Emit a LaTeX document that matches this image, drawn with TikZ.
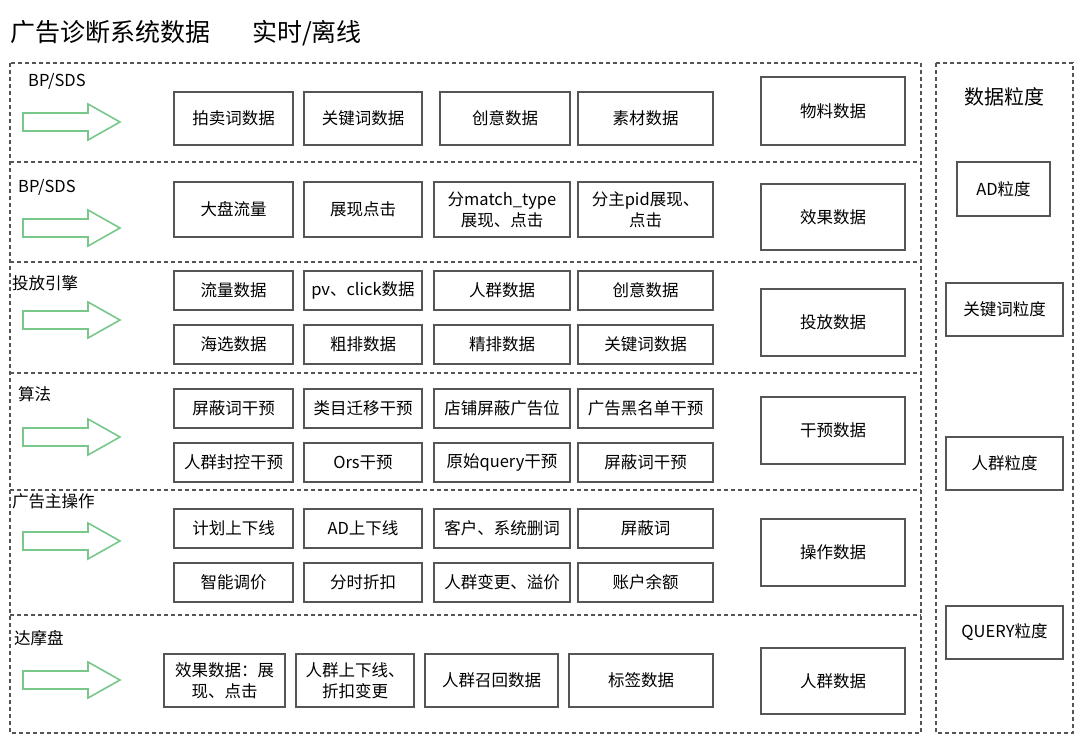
\documentclass[tikz,border=0pt]{standalone}
\usepackage{fontspec}
\setmainfont{Noto Sans CJK SC}
\definecolor{boxline}{RGB}{85,85,85}
\definecolor{arrowgreen}{RGB}{120,200,140}
\tikzset{
  cell/.style={draw=boxline, line width=1.6pt, fill=white, inner sep=1pt, align=center,
    font=\fontsize{16.5}{21}\selectfont},
  sectionlabel/.style={anchor=north west, inner sep=0pt, font=\fontsize{16.5}{20}\selectfont},
  frame/.style={draw=boxline, line width=1.3pt, dashed, dash pattern=on 4pt off 3pt},
}
\newcommand\cellbox[6]{\node[cell, minimum width={#4-#2}, minimum height={#5-#3}] (#1) at ({(#2+#4)/2},{(#3+#5)/2}) {#6};}
\newcommand\greenarrow[1]{\draw[arrowgreen, line width=1.6pt, fill=white]
  (23,#1-9) -- (88,#1-9) -- (88,#1-18) -- (120,#1) -- (88,#1+18) -- (88,#1+9) -- (23,#1+9) -- cycle;}
\begin{document}
\begin{tikzpicture}[x=1pt, y=-1pt]
\useasboundingbox (0,0) rectangle (1080,737);

% title
\node[anchor=west, inner sep=0pt, font=\fontsize{25}{30}\selectfont] (title) at (10,33) {广告诊断系统数据\hspace{42pt}实时/离线};

% frames
\draw[frame] (10,63) rectangle (921,733);
\draw[frame] (936,63) rectangle (1073,733);
\foreach \y in {162,262,373,490,615}
  {\draw[frame] (10,\y) -- (921,\y);}

% section labels
\node[sectionlabel] (lab1) at (28,73) {BP/SDS};
\node[sectionlabel] (lab2) at (18,179) {BP/SDS};
\node[sectionlabel] (lab3) at (12,275) {投放引擎};
\node[sectionlabel] (lab4) at (18,386) {算法};
\node[sectionlabel] (lab5) at (12,493) {广告主操作};
\node[sectionlabel] (lab6) at (14,630) {达摩盘};

% arrows
\foreach \y in {122,228,320,437,541,680}
  {\greenarrow{\y}}

% row 1
\cellbox{a1}{174}{92}{293}{145}{拍卖词数据}
\cellbox{a2}{304}{92}{422}{145}{关键词数据}
\cellbox{a3}{440}{92}{570}{145}{创意数据}
\cellbox{a4}{578}{92}{713}{145}{素材数据}
\cellbox{ra}{761}{77}{905}{145}{物料数据}

% row 2
\cellbox{b1}{174}{182}{293}{237}{大盘流量}
\cellbox{b2}{304}{182}{422}{237}{展现点击}
\cellbox{b3}{434}{182}{570}{237}{分match\_type\\展现、点击}
\cellbox{b4}{578}{182}{713}{237}{分主pid展现、\\点击}
\cellbox{rb}{761}{184}{905}{250}{效果数据}

% row 3
\cellbox{c1}{174}{271}{293}{310}{流量数据}
\cellbox{c2}{304}{271}{422}{310}{pv、click数据}
\cellbox{c3}{434}{271}{570}{310}{人群数据}
\cellbox{c4}{578}{271}{713}{310}{创意数据}
\cellbox{c5}{174}{325}{293}{364}{海选数据}
\cellbox{c6}{304}{325}{422}{364}{粗排数据}
\cellbox{c7}{434}{325}{570}{364}{精排数据}
\cellbox{c8}{578}{325}{713}{364}{关键词数据}
\cellbox{rc}{761}{289}{905}{356}{投放数据}

% row 4
\cellbox{d1}{174}{389}{293}{428}{屏蔽词干预}
\cellbox{d2}{304}{389}{422}{428}{类目迁移干预}
\cellbox{d3}{434}{389}{570}{428}{店铺屏蔽广告位}
\cellbox{d4}{578}{389}{713}{428}{广告黑名单干预}
\cellbox{d5}{174}{443}{293}{482}{人群封控干预}
\cellbox{d6}{304}{443}{422}{482}{Ors干预}
\cellbox{d7}{434}{443}{570}{482}{原始query干预}
\cellbox{d8}{578}{443}{713}{482}{屏蔽词干预}
\cellbox{rd}{761}{397}{905}{464}{干预数据}

% row 5
\cellbox{e1}{174}{509}{293}{548}{计划上下线}
\cellbox{e2}{304}{509}{422}{548}{AD上下线}
\cellbox{e3}{434}{509}{570}{548}{客户、系统删词}
\cellbox{e4}{578}{509}{713}{548}{屏蔽词}
\cellbox{e5}{174}{563}{293}{602}{智能调价}
\cellbox{e6}{304}{563}{422}{602}{分时折扣}
\cellbox{e7}{434}{563}{570}{602}{人群变更、溢价}
\cellbox{e8}{578}{563}{713}{602}{账户余额}
\cellbox{re}{761}{519}{905}{586}{操作数据}

% row 6
\cellbox{f1}{164}{654}{285}{707}{效果数据：展\\现、点击}
\cellbox{f2}{296}{654}{414}{707}{人群上下线、\\折扣变更}
\cellbox{f3}{425}{654}{558}{707}{人群召回数据}
\cellbox{f4}{569}{654}{713}{707}{标签数据}
\cellbox{rf}{761}{648}{905}{714}{人群数据}

% granularity
\node[font=\fontsize{20}{24}\selectfont] (grain) at (1004,97) {数据粒度};
\cellbox{g1}{957}{162}{1050}{216}{AD粒度}
\cellbox{g2}{946}{283}{1063}{336}{关键词粒度}
\cellbox{g3}{946}{437}{1063}{490}{人群粒度}
\cellbox{g4}{946}{606}{1063}{659}{QUERY粒度}
\end{tikzpicture}
\end{document}
